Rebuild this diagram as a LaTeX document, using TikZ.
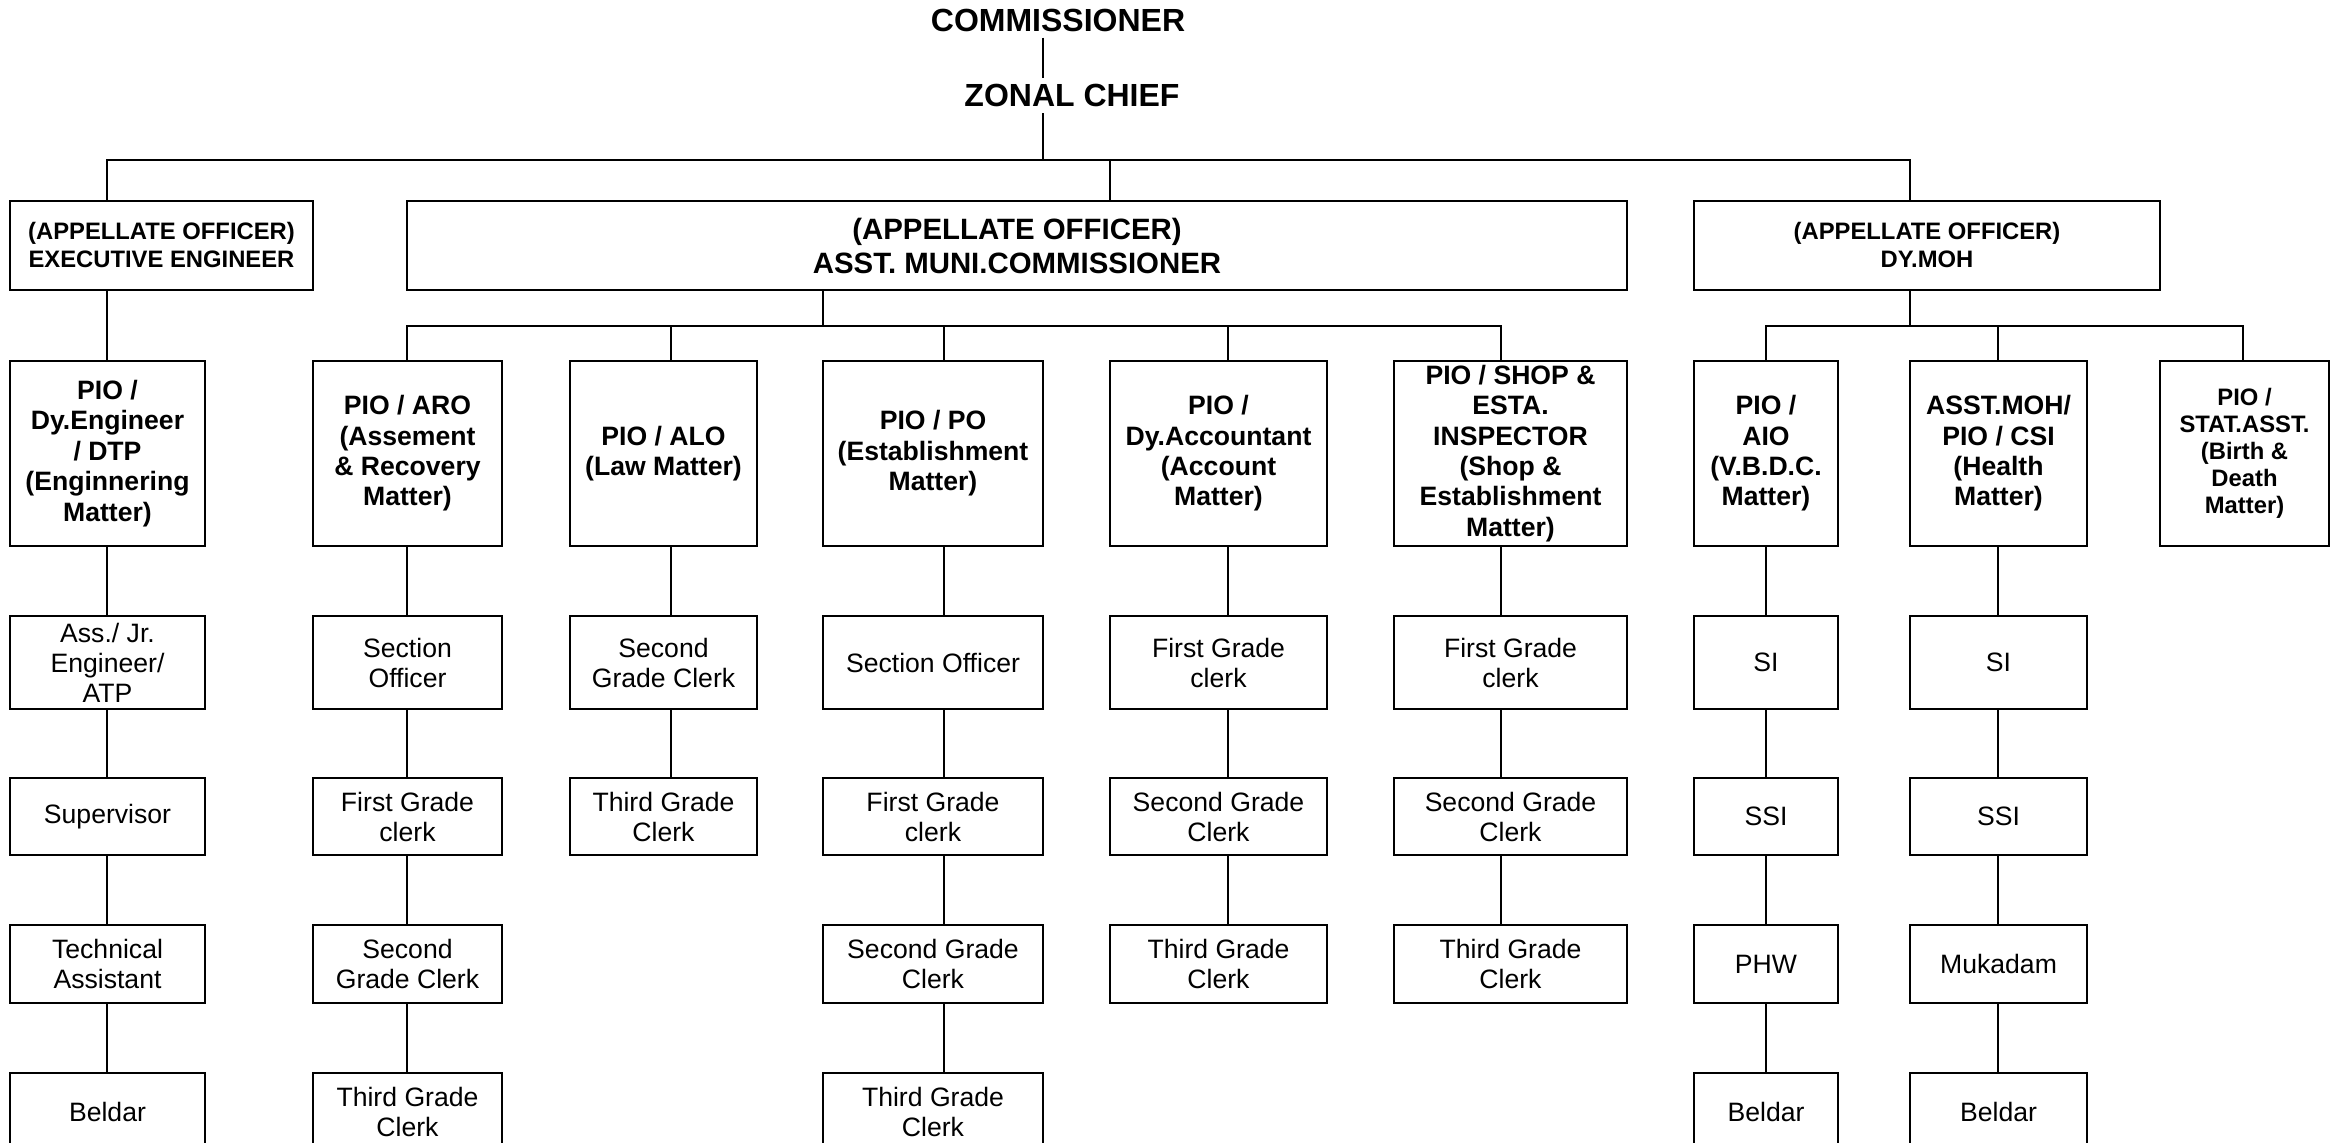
\documentclass[tikz,border=0pt]{standalone}
\usepackage{fontspec}
\setmainfont{Liberation Sans}

\tikzset{
  hdbox/.style={draw, line width=1.1pt, align=center, inner sep=0pt,
    font=\bfseries\fontsize{11.9}{14}\selectfont, minimum height=44.5pt},
  piobox/.style={draw, line width=1.1pt, align=center, inner sep=0pt,
    font=\bfseries\fontsize{13.3}{15.2}\selectfont, minimum height=92.5pt},
  staffbox/.style={draw, line width=1.1pt, align=center, inner sep=0pt,
    font=\fontsize{13.3}{15}\selectfont},
  link/.style={line width=0.9pt},
  toptext/.style={font=\bfseries\fontsize{16}{19}\selectfont, inner sep=3pt},
}

\begin{document}
\begin{tikzpicture}[x=0.5pt, y=-0.5pt]
\useasboundingbox (0,0) rectangle (2338,1143);

% line positions
\coordinate (kTop) at (1043,0);
\coordinate (kBus) at (0,160);
\coordinate (kSub) at (0,326);
\coordinate (kAMC) at (1110,0);
\coordinate (kAMCd) at (823,0);
\coordinate (kEE) at (107,0);
\coordinate (kARO) at (407,0);
\coordinate (kALO) at (671,0);
\coordinate (kPO) at (944,0);
\coordinate (kACC) at (1228,0);
\coordinate (kSHOP) at (1501,0);
\coordinate (kDY) at (1910,0);
\coordinate (kAIO) at (1766,0);
\coordinate (kCSI) at (1998,0);
\coordinate (kSTAT) at (2243,0);

\node [toptext] (comm) at (1058,20) {COMMISSIONER};
\node [toptext] (zone) at (1072,95.5) {ZONAL CHIEF};

% appellate officers
\node [hdbox, minimum width=151.5pt] (ee) at (161.5,245.5) {(APPELLATE OFFICER)\\EXECUTIVE ENGINEER};
\node [hdbox, minimum width=610pt, font=\bfseries\fontsize{14.7}{17}\selectfont] (amc) at (1017,245.5) {(APPELLATE OFFICER)\\ASST. MUNI.COMMISSIONER};
\node [hdbox, minimum width=233pt] (dymoh) at (1927,245.5) {(APPELLATE OFFICER)\\DY.MOH};

% PIOs
\node [piobox, minimum width=97.5pt] (dtp) at (107.5,453.5) {PIO /\\Dy.Engineer\\/ DTP\\(Enginnering\\Matter)};
\node [piobox, minimum width=94.5pt] (aro) at (407.5,453.5) {PIO / ARO\\(Assement\\\& Recovery\\Matter)};
\node [piobox, minimum width=93.5pt] (alo) at (663.5,453.5) {PIO / ALO\\(Law Matter)};
\node [piobox, minimum width=110pt] (po) at (933,453.5) {PIO / PO\\(Establishment\\Matter)};
\node [piobox, minimum width=108.5pt] (acc) at (1218.5,453.5) {PIO /\\Dy.Accountant\\(Account\\Matter)};
\node [piobox, minimum width=116.5pt] (shop) at (1510.5,453.5) {PIO / SHOP \&\\ESTA.\\INSPECTOR\\(Shop \&\\Establishment\\Matter)};
\node [piobox, minimum width=72pt] (aio) at (1766,453.5) {PIO /\\AIO\\(V.B.D.C.\\Matter)};
\node [piobox, minimum width=88.5pt] (csi) at (1998.5,453.5) {ASST.MOH/\\PIO / CSI\\(Health\\Matter)};
\node [piobox, minimum width=84.5pt, font=\bfseries\fontsize{11.9}{13.5}\selectfont] (stat) at (2244.5,453.5) {PIO /\\STAT.ASST.\\(Birth \&\\Death\\Matter)};

% engineering column
\node [staffbox, minimum width=97.5pt, minimum height=46.5pt] (dtp3) at (107.5,662.5) {Ass./ Jr.\\Engineer/\\ATP};
\node [staffbox, minimum width=97.5pt, minimum height=38.5pt] (dtp4) at (107.5,816.5) {Supervisor};
\node [staffbox, minimum width=97.5pt, minimum height=39pt] (dtp5) at (107.5,964) {Technical\\Assistant};
\node [staffbox, minimum width=97.5pt, minimum height=39pt] (dtp6) at (107.5,1112) {Beldar};

% assessment column
\node [staffbox, minimum width=94.5pt, minimum height=46.5pt] (aro3) at (407.5,662.5) {Section\\Officer};
\node [staffbox, minimum width=94.5pt, minimum height=38.5pt] (aro4) at (407.5,816.5) {First Grade\\clerk};
\node [staffbox, minimum width=94.5pt, minimum height=39pt] (aro5) at (407.5,964) {Second\\Grade Clerk};
\node [staffbox, minimum width=94.5pt, minimum height=39pt] (aro6) at (407.5,1112) {Third Grade\\Clerk};

% law column
\node [staffbox, minimum width=93.5pt, minimum height=46.5pt] (alo3) at (663.5,662.5) {Second\\Grade Clerk};
\node [staffbox, minimum width=93.5pt, minimum height=38.5pt] (alo4) at (663.5,816.5) {Third Grade\\Clerk};

% establishment column
\node [staffbox, minimum width=110pt, minimum height=46.5pt] (po3) at (933,662.5) {Section Officer};
\node [staffbox, minimum width=110pt, minimum height=38.5pt] (po4) at (933,816.5) {First Grade\\clerk};
\node [staffbox, minimum width=110pt, minimum height=39pt] (po5) at (933,964) {Second Grade\\Clerk};
\node [staffbox, minimum width=110pt, minimum height=39pt] (po6) at (933,1112) {Third Grade\\Clerk};

% account column
\node [staffbox, minimum width=108.5pt, minimum height=46.5pt] (acc3) at (1218.5,662.5) {First Grade\\clerk};
\node [staffbox, minimum width=108.5pt, minimum height=38.5pt] (acc4) at (1218.5,816.5) {Second Grade\\Clerk};
\node [staffbox, minimum width=108.5pt, minimum height=39pt] (acc5) at (1218.5,964) {Third Grade\\Clerk};

% shop column
\node [staffbox, minimum width=116.5pt, minimum height=46.5pt] (shop3) at (1510.5,662.5) {First Grade\\clerk};
\node [staffbox, minimum width=116.5pt, minimum height=38.5pt] (shop4) at (1510.5,816.5) {Second Grade\\Clerk};
\node [staffbox, minimum width=116.5pt, minimum height=39pt] (shop5) at (1510.5,964) {Third Grade\\Clerk};

% vbdc column
\node [staffbox, minimum width=72pt, minimum height=46.5pt] (aio3) at (1766,662.5) {SI};
\node [staffbox, minimum width=72pt, minimum height=38.5pt] (aio4) at (1766,816.5) {SSI};
\node [staffbox, minimum width=72pt, minimum height=39pt] (aio5) at (1766,964) {PHW};
\node [staffbox, minimum width=72pt, minimum height=39pt] (aio6) at (1766,1112) {Beldar};

% health column
\node [staffbox, minimum width=88.5pt, minimum height=46.5pt] (csi3) at (1998.5,662.5) {SI};
\node [staffbox, minimum width=88.5pt, minimum height=38.5pt] (csi4) at (1998.5,816.5) {SSI};
\node [staffbox, minimum width=88.5pt, minimum height=39pt] (csi5) at (1998.5,964) {Mukadam};
\node [staffbox, minimum width=88.5pt, minimum height=39pt] (csi6) at (1998.5,1112) {Beldar};

% top of the tree
\draw [link] (kTop |- comm.south) -- (kTop |- zone.north);
\draw [link] (kTop |- zone.south) -- (kTop |- kBus);
\draw [link] (kEE |- ee.north) |- (kDY |- kBus) -- (kDY |- dymoh.north);
\draw [link] (kAMC |- kBus) -- (kAMC |- amc.north);

% under the appellate officers
\draw [link] (kEE |- ee.south) -- (kEE |- dtp.north);
\draw [link] (kAMCd |- amc.south) -- (kAMCd |- kSub);
\draw [link] (kARO |- aro.north) |- (kSHOP |- kSub) -- (kSHOP |- shop.north);
\draw [link] (kALO |- kSub) -- (kALO |- alo.north);
\draw [link] (kPO |- kSub) -- (kPO |- po.north);
\draw [link] (kACC |- kSub) -- (kACC |- acc.north);
\draw [link] (kDY |- dymoh.south) -- (kDY |- kSub);
\draw [link] (kAIO |- aio.north) |- (kSTAT |- kSub) -- (kSTAT |- stat.north);
\draw [link] (kCSI |- kSub) -- (kCSI |- csi.north);

% columns
\draw [link] (kEE |- dtp.south) -- (kEE |- dtp3.north) (kEE |- dtp3.south) -- (kEE |- dtp4.north)
  (kEE |- dtp4.south) -- (kEE |- dtp5.north) (kEE |- dtp5.south) -- (kEE |- dtp6.north);
\draw [link] (kARO |- aro.south) -- (kARO |- aro3.north) (kARO |- aro3.south) -- (kARO |- aro4.north)
  (kARO |- aro4.south) -- (kARO |- aro5.north) (kARO |- aro5.south) -- (kARO |- aro6.north);
\draw [link] (kALO |- alo.south) -- (kALO |- alo3.north) (kALO |- alo3.south) -- (kALO |- alo4.north);
\draw [link] (kPO |- po.south) -- (kPO |- po3.north) (kPO |- po3.south) -- (kPO |- po4.north)
  (kPO |- po4.south) -- (kPO |- po5.north) (kPO |- po5.south) -- (kPO |- po6.north);
\draw [link] (kACC |- acc.south) -- (kACC |- acc3.north) (kACC |- acc3.south) -- (kACC |- acc4.north)
  (kACC |- acc4.south) -- (kACC |- acc5.north);
\draw [link] (kSHOP |- shop.south) -- (kSHOP |- shop3.north) (kSHOP |- shop3.south) -- (kSHOP |- shop4.north)
  (kSHOP |- shop4.south) -- (kSHOP |- shop5.north);
\draw [link] (kAIO |- aio.south) -- (kAIO |- aio3.north) (kAIO |- aio3.south) -- (kAIO |- aio4.north)
  (kAIO |- aio4.south) -- (kAIO |- aio5.north) (kAIO |- aio5.south) -- (kAIO |- aio6.north);
\draw [link] (kCSI |- csi.south) -- (kCSI |- csi3.north) (kCSI |- csi3.south) -- (kCSI |- csi4.north)
  (kCSI |- csi4.south) -- (kCSI |- csi5.north) (kCSI |- csi5.south) -- (kCSI |- csi6.north);
\end{tikzpicture}
\end{document}
